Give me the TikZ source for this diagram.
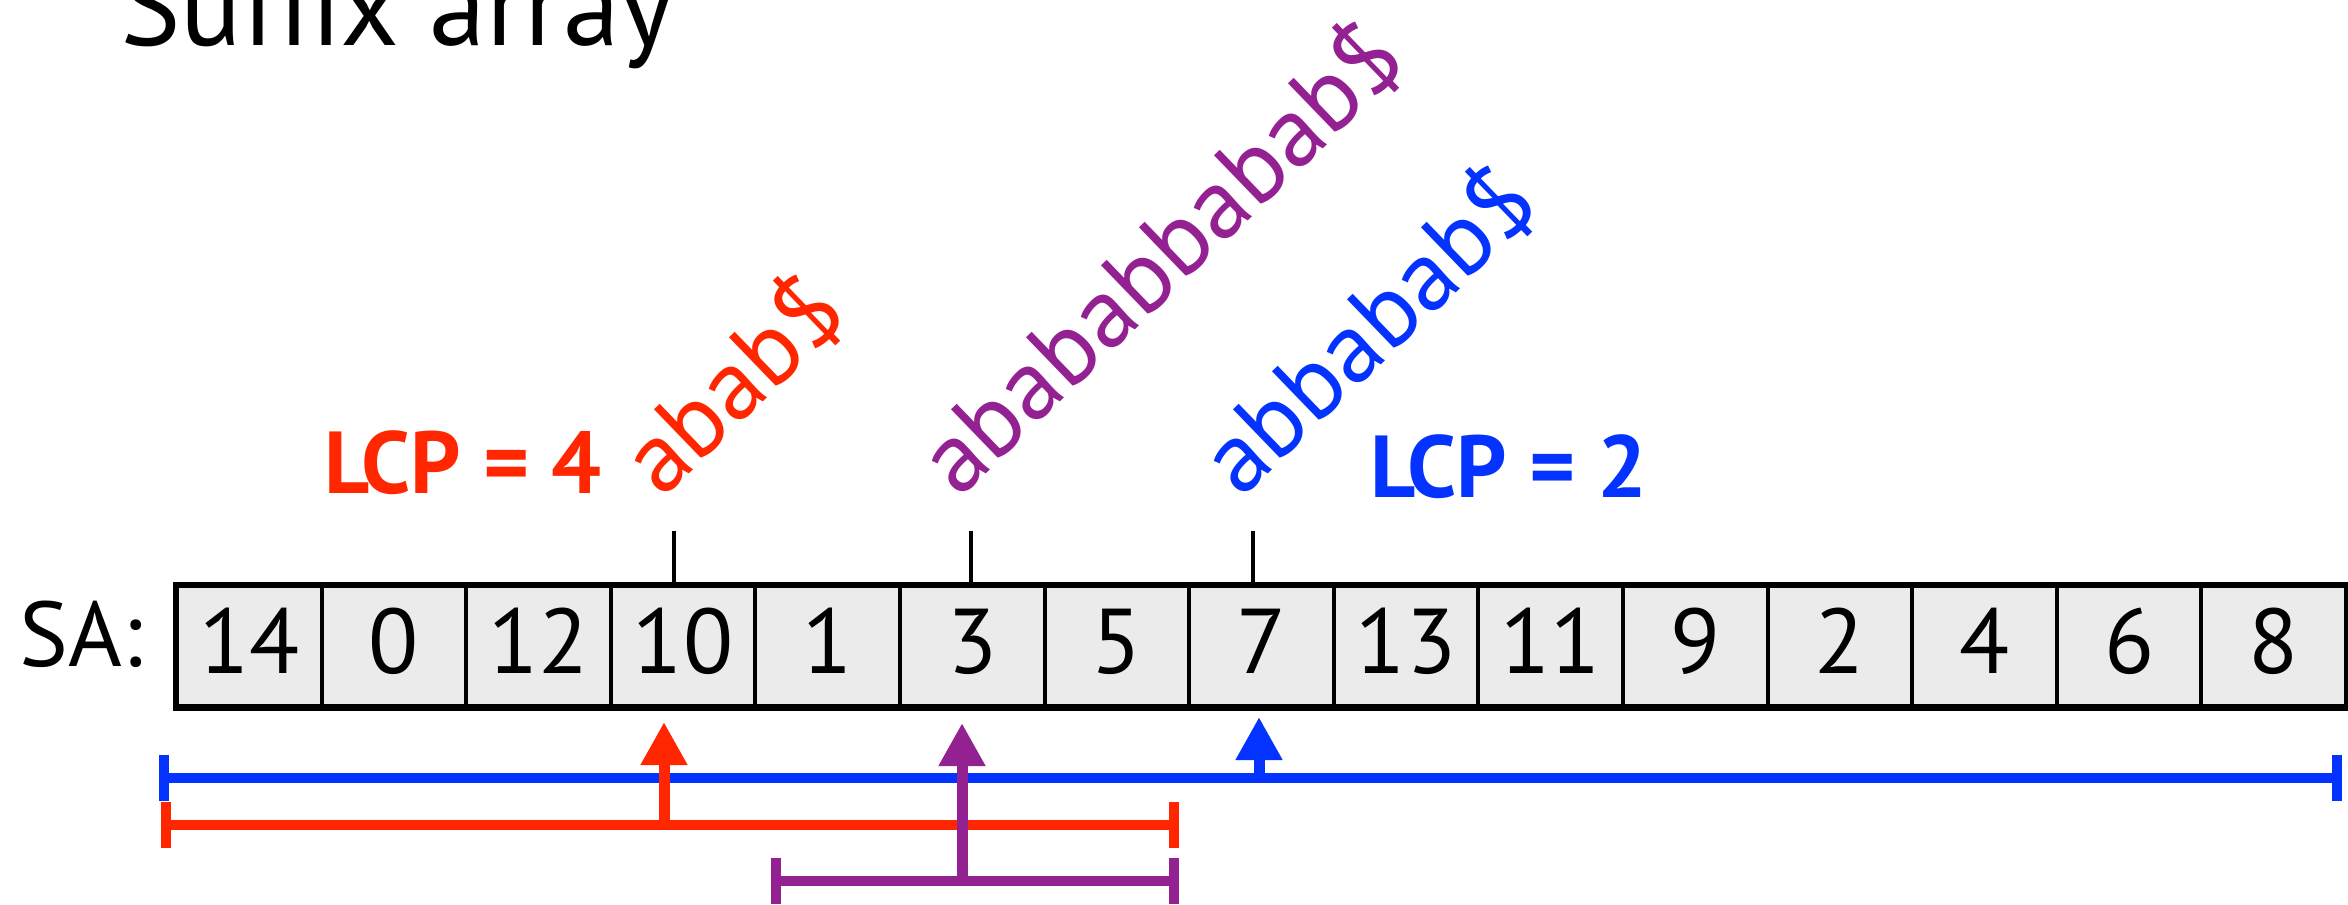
\documentclass[tikz,border=0pt]{standalone}
\usepackage{fontspec}
\setmainfont{PT Sans}
\usetikzlibrary{arrows.meta,calc}
\definecolor{kred}{RGB}{255,38,0}
\definecolor{kblue}{RGB}{4,51,255}
\definecolor{kpurple}{RGB}{148,33,146}
\definecolor{cellgray}{RGB}{235,235,235}

\begin{document}
\begin{tikzpicture}[x=0.5pt,y=-0.5pt,
  cell/.style={draw=black, line width=2pt, fill=cellgray,
    minimum width=72.3pt, minimum height=60pt, inner sep=0pt,
    text height=27pt, text depth=0pt, anchor=north west,
    font=\fontsize{46}{50}\selectfont},
  numfont/.style={font=\fontsize{46}{50}\selectfont},
  lcp/.style={inner sep=0pt, font=\fontsize{44}{48}\selectfont\bfseries},
  suffix/.style={inner sep=0pt, rotate=44, anchor=base west,
    font=\fontsize{50}{55}\selectfont},
  tickline/.style={line width=2pt, black},
  interval/.style={line width=5pt, {Bar[width=23pt]}-{Bar[width=23pt]}},
  pointer/.style={line width=5.5pt, -{Triangle[length=21.5pt,width=22pt]}}]

\useasboundingbox (0,0) rectangle (2348,904);

% title
\node[anchor=base west, inner sep=0pt, font=\fontsize{57}{60}\selectfont]
  (title) at (120,46) {Suffix array};

% suffix array row
\node[numfont, anchor=base west, inner sep=0pt] (sa) at (19,666) {SA:};
\foreach \v [count=\i from 0] in {14,0,12,10,1,3,5,7,13,11,9,2,4,6,8}
  \node[cell] (c\i) at ({175+144.6*\i},584) {\v};
\draw[line width=2.5pt] (c0.north west) rectangle (c14.south east);

% markers above the compared entries
\coordinate (t3) at (674,531);
\coordinate (t5) at (971,531);
\coordinate (t7) at (1253,531);
\draw[tickline] (t3) -- (t3 |- c3.north);
\draw[tickline] (t5) -- (t5 |- c5.north);
\draw[tickline] (t7) -- (t7 |- c7.north);

% suffixes
\node[suffix, text=kred]    (s10) at (662,500)  {abab\$};
\node[suffix, text=kpurple] (s3)  at (959,500)  {abababbabab\$};
\node[suffix, text=kblue]   (s7)  at (1241,500) {abbabab\$};

% LCP labels
\node[lcp, text=kred, anchor=base east]  (lcp4) at (602,493)  {LCP = 4};
\node[lcp, text=kblue, anchor=base west] (lcp2) at (1370,497) {LCP = 2};

% search intervals
\coordinate (bL) at (159,778);  \coordinate (bR) at (2342,778);
\coordinate (rL) at (161,825);  \coordinate (rR) at (1179,825);
\coordinate (pL) at (771,881);  \coordinate (pR) at (1179,881);
\draw[interval, kblue]   (bL) -- (bR);
\draw[interval, kred]    (rL) -- (rR);
\draw[interval, kpurple] (pL) -- (pR);

% midpoint pointers
\coordinate (rM) at (664,825);  \coordinate (rT) at (664,722);
\coordinate (pM) at (962,881);  \coordinate (pT) at (962,723);
\coordinate (bM) at (1259,778); \coordinate (bT) at (1259,717);
\draw[pointer, kred]    (rM) -- (rT);
\draw[pointer, kpurple] (pM) -- (pT);
\draw[pointer, kblue]   (bM) -- (bT);

\end{tikzpicture}
\end{document}
